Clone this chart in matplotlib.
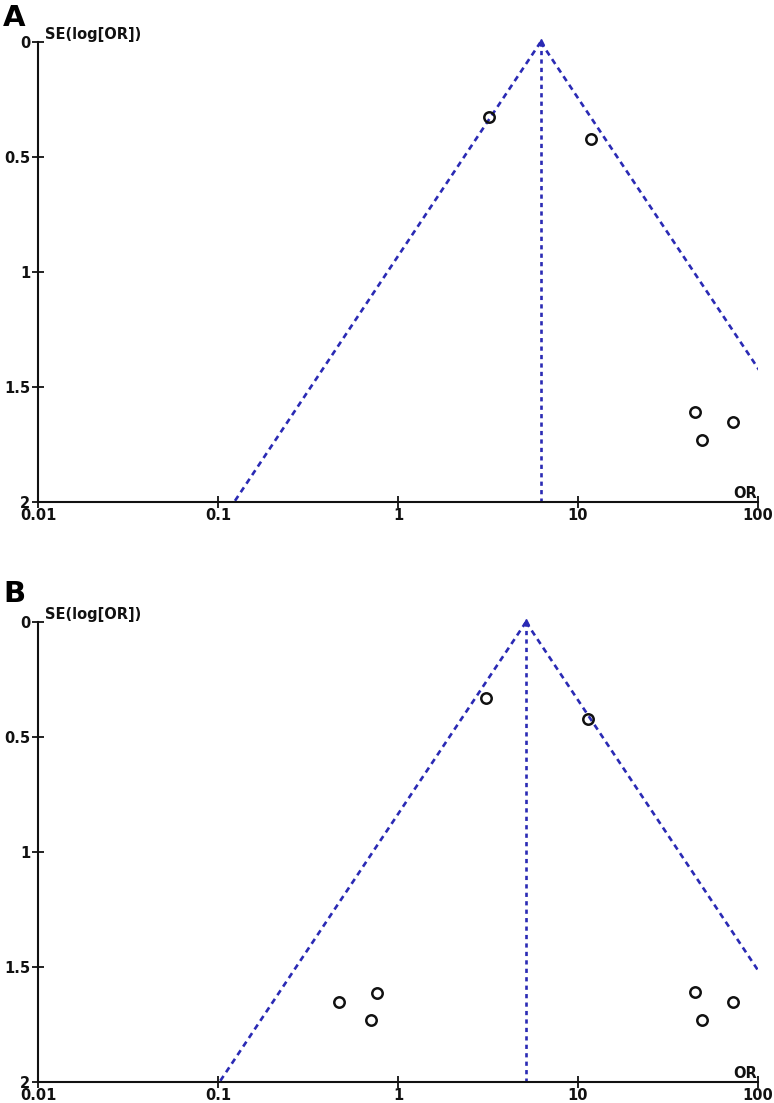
import matplotlib
matplotlib.use("Agg")
import matplotlib.pyplot as plt
import numpy as np

# ---- data ----
xticks = [0.01, 0.1, 1, 10, 100]
xtick_labels = ["0.01", "0.1", "1", "10", "100"]
yticks = [0, 0.5, 1, 1.5, 2]
ytick_labels = ["0", "0.5", "1", "1.5", "2"]

# Panel A
a_or = [3.2, 11.8, 44.7, 72.6, 48.9]
a_se = [0.326, 0.422, 1.609, 1.652, 1.730]
a_pooled = 6.2

# Panel B (trim and fill)
b_or = [3.1, 11.4, 44.7, 72.6, 48.9, 0.47, 0.764, 0.708]
b_se = [0.330, 0.422, 1.609, 1.652, 1.730, 1.652, 1.613, 1.730]
b_pooled = 5.14

panel_labels = ["A", "B"]

W, H = 774, 1103
fig = plt.figure(figsize=(W / 100, H / 100), dpi=100)

blue = "#2a2ab4"
font = "DejaVu Sans"

def make_panel(rect, ors, ses, pooled, letter):
    ax = fig.add_axes(rect)
    ax.set_xscale("log")
    ax.set_xlim(0.01, 100)
    ax.set_ylim(2, 0)
    for s in ["top", "right"]:
        ax.spines[s].set_visible(False)
    for s in ["left", "bottom"]:
        ax.spines[s].set_linewidth(1.5)
        ax.spines[s].set_color("#111111")
    ax.set_xticks(xticks)
    ax.set_xticklabels(xtick_labels)
    ax.set_yticks(yticks)
    ax.set_yticklabels(ytick_labels)
    ax.minorticks_off()
    ax.tick_params(axis="x", direction="inout", length=8, width=1.3, pad=0,
                   labelsize=10.5, colors="#111111")
    ax.tick_params(axis="y", direction="inout", length=9, width=1.3, pad=1,
                   labelsize=10.5, colors="#111111")
    for lab in ax.get_xticklabels() + ax.get_yticklabels():
        lab.set_fontweight("bold")
        lab.set_family(font)

    se_line = np.array([0.0, 2.0])
    lo = pooled * np.exp(-1.96 * se_line)
    hi = pooled * np.exp(1.96 * se_line)
    ax.plot(lo, se_line, color=blue, lw=1.9, linestyle=(0, (2.2, 1.7)))
    ax.plot(hi, se_line, color=blue, lw=1.9, linestyle=(0, (2.2, 1.7)))
    ax.plot([pooled, pooled], [0, 2], color=blue, lw=1.9, linestyle=(0, (1.6, 1.6)))
    ax.plot([pooled], [0.0], marker="^", ms=4, color=blue, clip_on=False)

    ax.plot(ors, ses, linestyle="none", marker="o", ms=7.5, mfc="none",
            mec="#111111", mew=1.8, zorder=5)

    ax.annotate("SE(log[OR])", xy=(0, 1), xycoords="axes fraction",
                xytext=(5, 0), textcoords="offset points", ha="left", va="bottom",
                fontsize=10.5, fontweight="bold", family=font, color="#111111")
    ax.annotate("OR", xy=(1, 0), xycoords="axes fraction",
                xytext=(-1, 1), textcoords="offset points", ha="right", va="bottom",
                fontsize=10.5, fontweight="bold", family=font, color="#111111")
    return ax

axA = make_panel([38 / W, 1 - 502 / H, 720 / W, 460 / H], a_or, a_se, a_pooled, "A")
axB = make_panel([38 / W, 1 - 1082 / H, 720 / W, 460 / H], b_or, b_se, b_pooled, "B")

fig.text(3 / W, 1 - 26 / H, panel_labels[0], fontsize=21, fontweight="bold",
         family=font, ha="left", va="baseline")
fig.text(3 / W, 1 - 602 / H, panel_labels[1], fontsize=21, fontweight="bold",
         family=font, ha="left", va="baseline")

fig.savefig("out.png", dpi=100)
